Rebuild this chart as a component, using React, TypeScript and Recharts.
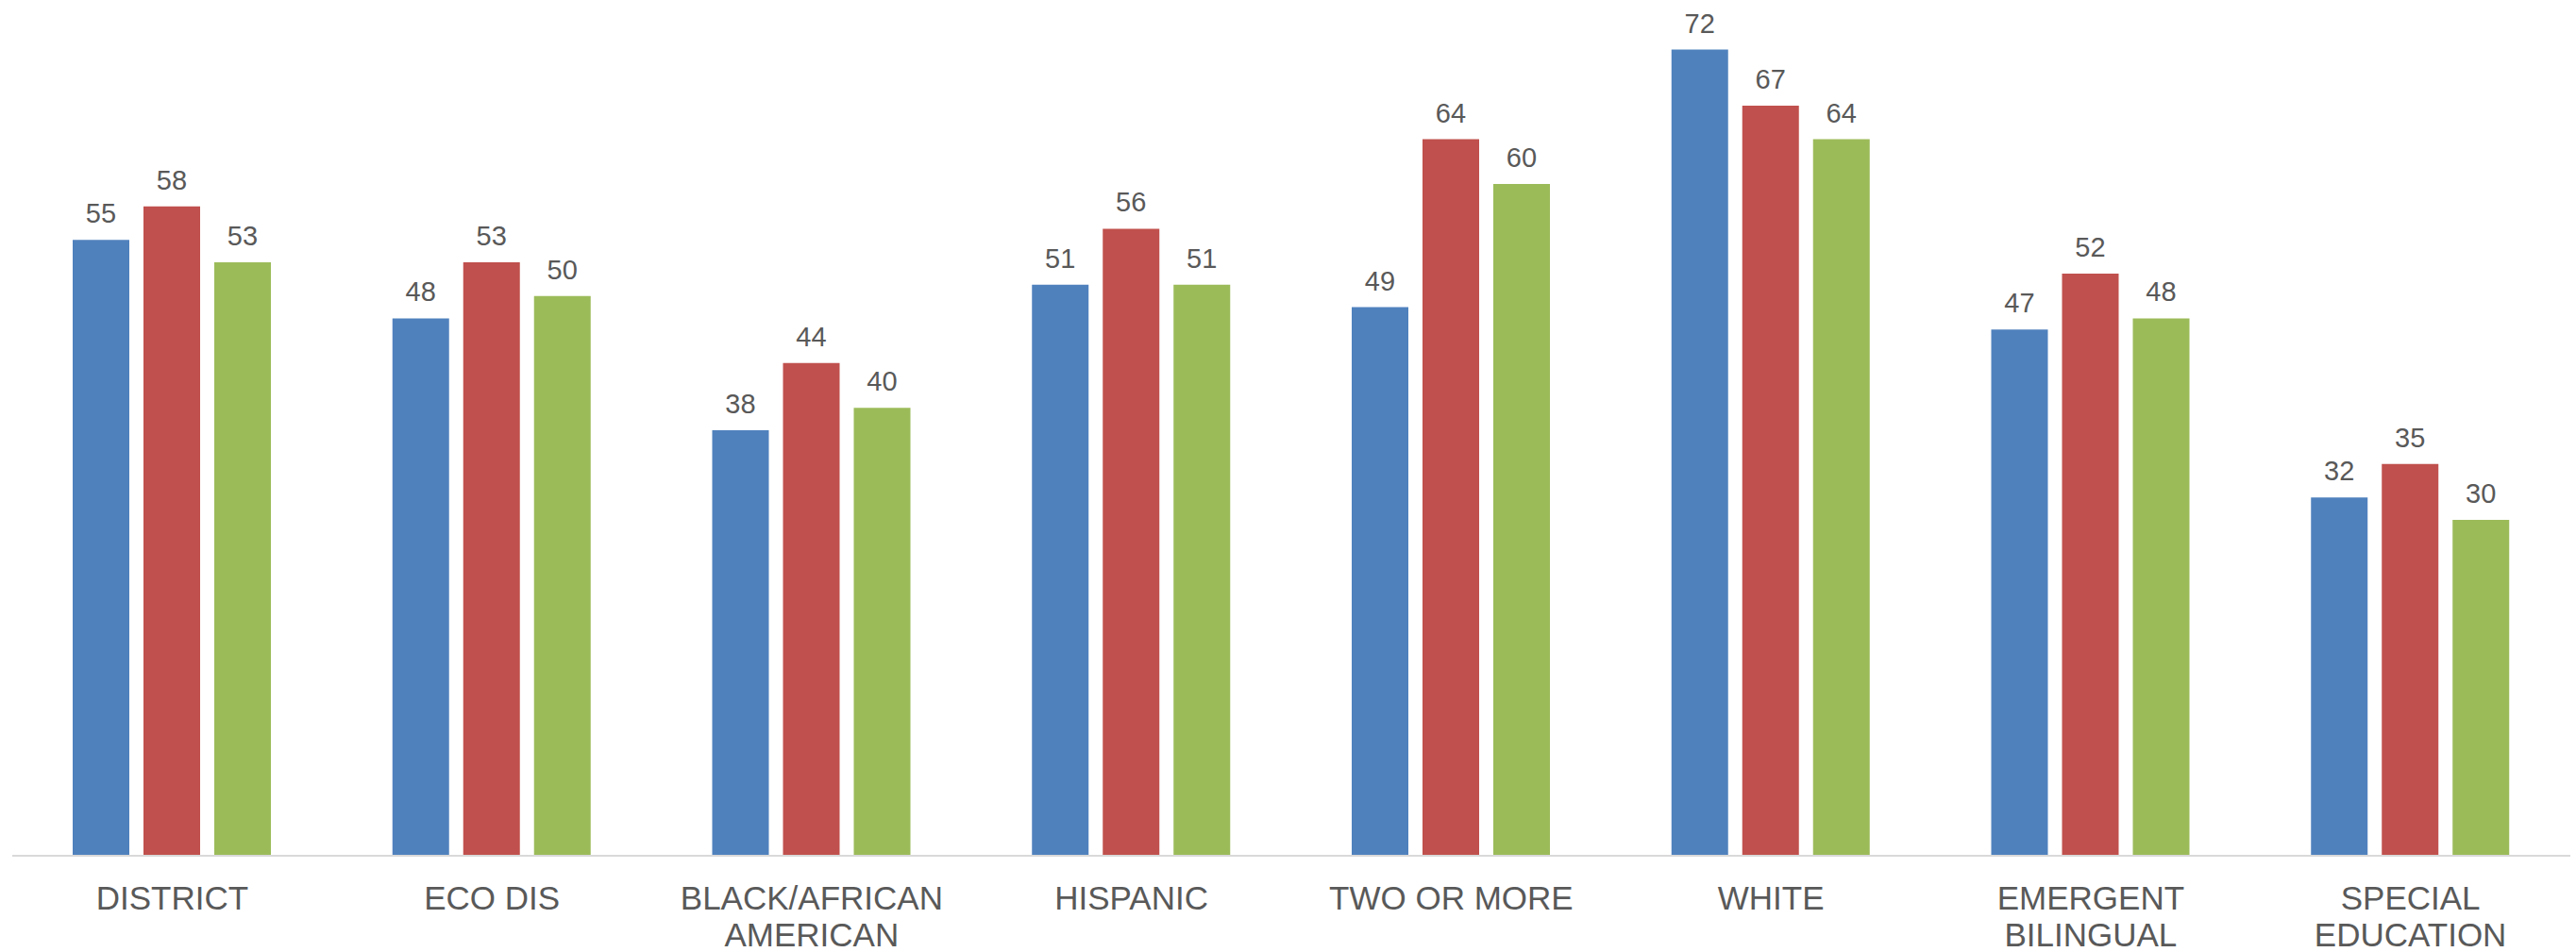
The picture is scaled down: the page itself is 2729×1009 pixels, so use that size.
import React from "react";
import { BarChart, Bar, XAxis, YAxis, LabelList } from "recharts";

const CATEGORIES = [
  "DISTRICT",
  "ECO DIS",
  "BLACK/AFRICAN AMERICAN",
  "HISPANIC",
  "TWO OR MORE",
  "WHITE",
  "EMERGENT BILINGUAL",
  "SPECIAL EDUCATION",
];

const SERIES_A = [55, 48, 38, 51, 49, 72, 47, 32];
const SERIES_B = [58, 53, 44, 56, 64, 67, 52, 35];
const SERIES_C = [53, 50, 40, 51, 60, 64, 48, 30];

const COLORS = ["#4F81BD", "#C0504D", "#9BBB59"];
const TEXT = "#595959";
const FONT = "'Liberation Sans', Arial, sans-serif";

const data = CATEGORIES.map((name, i) => ({
  name,
  a: SERIES_A[i],
  b: SERIES_B[i],
  c: SERIES_C[i],
}));

// long names wrap onto two lines, like the original
const splitLabel = (s: string) => {
  if (s.length <= 12) return [s];
  const k = s.lastIndexOf(" ");
  return [s.slice(0, k), s.slice(k + 1)];
};

const CategoryTick = (props: any) => {
  const { x, y, payload } = props;
  const lines = splitLabel(String(payload.value));
  return (
    <text x={x} y={y} textAnchor="middle" fill={TEXT} fontSize={35} fontFamily={FONT}>
      {lines.map((ln, i) => (
        <tspan key={i} x={x} y={y + 57 + i * 39}>
          {ln}
        </tspan>
      ))}
    </text>
  );
};

const labelStyle = { fill: TEXT, fontSize: 29, fontFamily: FONT };

export default function App() {
  return (
    <div style={{ position: "absolute", left: 0, top: 0, background: "#fff" }}>
      <BarChart
        width={2729}
        height={1009}
        data={data}
        margin={{ top: 17, right: 6, bottom: 0, left: 13 }}
        barSize={60}
        barGap={15}
      >
        <XAxis
          dataKey="name"
          interval={0}
          height={102}
          tickLine={false}
          tickSize={0}
          tickMargin={0}
          axisLine={{ stroke: "#D9D9D9", strokeWidth: 2 }}
          tick={<CategoryTick />}
        />
        <YAxis hide domain={[0, 75]} />
        <Bar dataKey="a" name="Series 1" fill={COLORS[0]} isAnimationActive={false}>
          <LabelList dataKey="a" position="top" offset={18} style={labelStyle} />
        </Bar>
        <Bar dataKey="b" name="Series 2" fill={COLORS[1]} isAnimationActive={false}>
          <LabelList dataKey="b" position="top" offset={18} style={labelStyle} />
        </Bar>
        <Bar dataKey="c" name="Series 3" fill={COLORS[2]} isAnimationActive={false}>
          <LabelList dataKey="c" position="top" offset={18} style={labelStyle} />
        </Bar>
      </BarChart>
    </div>
  );
}
